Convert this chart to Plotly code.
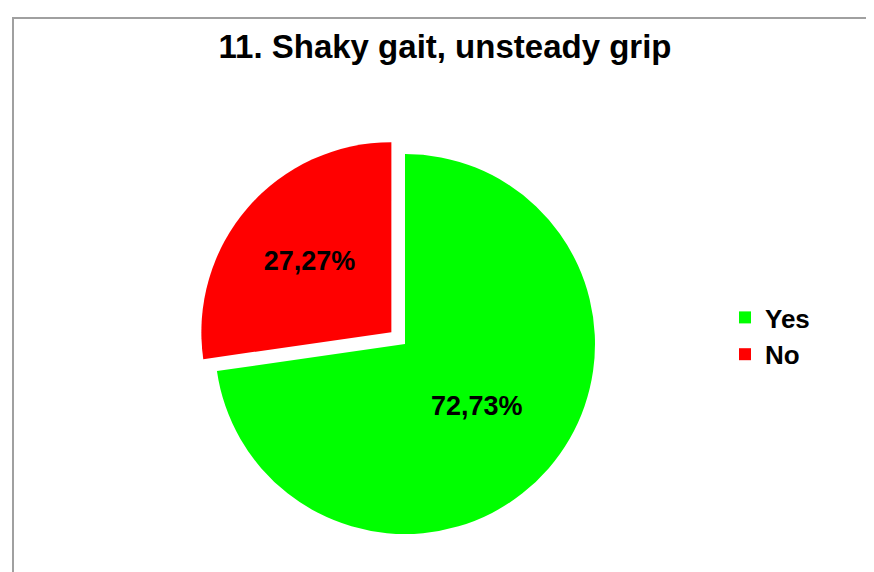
import plotly.graph_objects as go

labels = ["Yes", "No"]
values = [72.73, 27.27]
text_labels = ["72,73%", "27,27%"]
colors = ["#00FF00", "#FF0000"]
pulls = [0, 0.095]

W, H = 874, 572
cx, cy, r = 397, 336, 190
half = r * (1 + max(pulls))

fig = go.Figure(go.Pie(
    labels=labels,
    values=values,
    text=text_labels,
    texttemplate="%{text}",
    textposition="inside",
    insidetextorientation="horizontal",
    textfont=dict(family="Liberation Sans, Arial", size=27, color="black", weight="bold"),
    marker=dict(colors=colors, line=dict(width=0)),
    pull=pulls,
    sort=False,
    direction="clockwise",
    rotation=0,
    hoverinfo="label+text",
    domain=dict(x=[(cx - half) / W, (cx + half) / W],
                y=[(H - cy - half) / H, (H - cy + half) / H]),
))

fig.update_layout(
    width=W, height=H,
    margin=dict(l=0, r=0, t=0, b=0),
    paper_bgcolor="white",
    plot_bgcolor="white",
    title=dict(text="<b>11. Shaky gait, unsteady grip</b>",
               x=0.5, xanchor="center", y=1 - 38 / H, yanchor="middle",
               font=dict(family="Liberation Sans, Arial", size=33, color="black")),
    legend=dict(x=717 / W, y=1 - 286 / H, xanchor="left", yanchor="top",
                font=dict(family="Liberation Sans, Arial", size=26, color="black", weight="bold"),
                itemwidth=30, bgcolor="rgba(0,0,0,0)"),
    shapes=[dict(type="rect", xref="paper", yref="paper",
                 x0=5 / W, x1=868 / W, y0=-0.02, y1=1 - 10 / H,
                 line=dict(color="#A0A0A0", width=2))],
)

fig.write_html("out.html")
